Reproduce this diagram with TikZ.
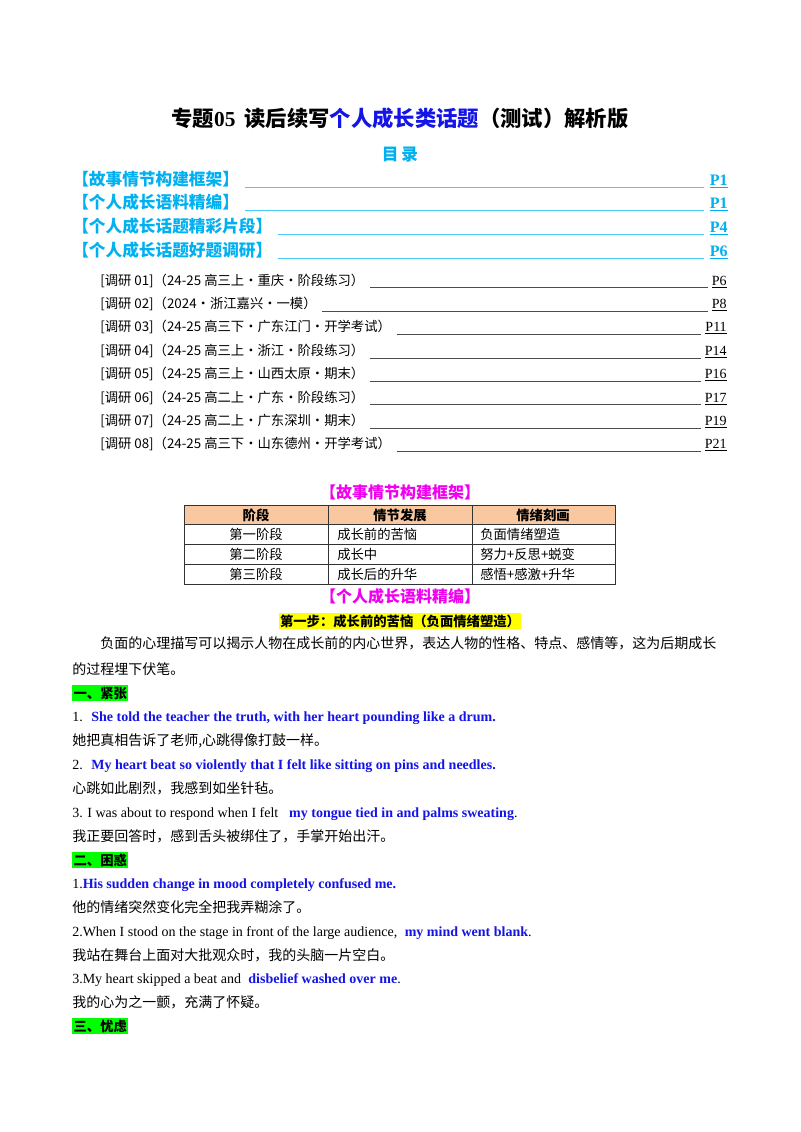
\documentclass[tikz,border=0pt]{standalone}
\usepackage{fontspec}
\setmainfont{Liberation Serif}
\newfontfamily\cjk{Noto Sans CJK SC}
\usetikzlibrary{positioning}
\definecolor{tocblue}{RGB}{0,176,240}
\definecolor{enblue}{RGB}{20,20,230}
\definecolor{hdrpink}{RGB}{240,0,240}
\definecolor{headfill}{RGB}{250,200,160}
\definecolor{hlgreen}{RGB}{0,255,0}
\definecolor{hlyellow}{RGB}{255,255,0}

\tikzset{
    toc/.style={anchor=base west, inner sep=0pt, text=tocblue, font=\cjk\bfseries\fontsize{12.5}{14}\selectfont},
    pg/.style={anchor=base east, inner sep=0pt, font=\bfseries\fontsize{12}{14}\selectfont},
    sub/.style={anchor=base west, inner sep=0pt, font=\cjk\fontsize{10}{12}\selectfont},
    body/.style={anchor=base west, inner sep=0pt, font=\cjk\fontsize{10.5}{12}\selectfont},
    eng/.style={anchor=base west, inner sep=0pt, font=\fontsize{10.5}{12}\selectfont},
    hdr/.style={inner sep=0pt, text=hdrpink, font=\cjk\bfseries\fontsize{12}{14}\selectfont},
    cell/.style={inner sep=0pt, font=\cjk\fontsize{10}{12}\selectfont},
    lead/.style={tocblue!70, line width=0.5pt},
}
\newcommand{\en}[1]{\textcolor{enblue}{\textbf{#1}}}

\begin{document}
\begin{tikzpicture}[x=0.75pt, y=-0.75pt]
\useasboundingbox[fill=white] (0,0) rectangle (800,1132);

% title
\node[inner sep=0pt, font=\bfseries\fontsize{16}{18}\selectfont] (title) at (400,118)
    {{\cjk 专题}05\, {\cjk 读后续写\textcolor{enblue}{个人成长类话题}（测试）解析版}};
\node[inner sep=0pt, text=tocblue, font=\cjk\bfseries\fontsize{12.5}{14}\selectfont] (mulu) at (400,155) {目\,录};

% contents
\node[toc] (t1) at (72,185) {【故事情节构建框架】};
\node[toc] (t2) at (72,208) {【个人成长语料精编】};
\node[toc] (t3) at (72,232) {【个人成长话题精彩片段】};
\node[toc] (t4) at (72,256) {【个人成长话题好题调研】};
\node[pg, text=tocblue] (p1) at (728,185) {\underline{P1}};
\node[pg, text=tocblue] (p2) at (728,208) {\underline{P1}};
\node[pg, text=tocblue] (p3) at (728,232) {\underline{P4}};
\node[pg, text=tocblue] (p4) at (728,256) {\underline{P6}};
\foreach \i in {1,...,4}
    \draw[lead] ([xshift=4pt,yshift=-2pt]t\i.base east) -- ([xshift=-4pt,yshift=-2pt]p\i.base west);

\foreach \i/\src/\pp [count=\k] in {
    01/24-25 高三上·重庆·阶段练习/P6,
    02/2024·浙江嘉兴·一模/P8,
    03/24-25 高三下·广东江门·开学考试/P11,
    04/24-25 高三上·浙江·阶段练习/P14,
    05/24-25 高三上·山西太原·期末/P16,
    06/24-25 高二上·广东·阶段练习/P17,
    07/24-25 高二上·广东深圳·期末/P19,
    08/24-25 高三下·山东德州·开学考试/P21}
{
    \node[sub] (s\k) at (100,{285+23.4*(\k-1)}) {[调研 \i]（\src）};
    \node[pg, font=\fontsize{10.5}{12}\selectfont] (q\k) at (727,{285+23.4*(\k-1)}) {\underline{\pp}};
    \draw[black!70, line width=0.4pt] ([xshift=4pt,yshift=-2pt]s\k.base east) -- ([xshift=-3pt,yshift=-2pt]q\k.base west);
}

% frame table
\node[hdr] (h1) at (400,492) {【故事情节构建框架】};
\fill[headfill] (184,505) rectangle (615,524);
\draw[black!80, line width=0.6pt] (184,505) rectangle (615,584);
\foreach \y in {524,544,564} \draw[black!80, line width=0.5pt] (184,\y) -- (615,\y);
\foreach \x in {328,472} \draw[black!80, line width=0.5pt] (\x,505) -- (\x,584);
\node[cell, font=\cjk\bfseries\fontsize{10}{12}\selectfont] (c11) at (256,515) {阶段};
\node[cell, font=\cjk\bfseries\fontsize{10}{12}\selectfont] (c12) at (400,515) {情节发展};
\node[cell, font=\cjk\bfseries\fontsize{10}{12}\selectfont] (c13) at (543,515) {情绪刻画};
\foreach \a/\b/\c [count=\r] in {第一阶段/成长前的苦恼/负面情绪塑造, 第二阶段/成长中/努力+反思+蜕变, 第三阶段/成长后的升华/感悟+感激+升华} {
    \node[cell] (r\r a) at (256,{534+20*(\r-1)}) {\a};
    \node[cell, anchor=west] (r\r b) at (337,{534+20*(\r-1)}) {\b};
    \node[cell, anchor=west] (r\r c) at (480,{534+20*(\r-1)}) {\c};
}
\node[hdr] (h2) at (400,596) {【个人成长语料精编】};
\node[inner sep=1pt, fill=hlyellow, font=\cjk\bfseries\fontsize{10}{12}\selectfont] (step1) at (400,621) {第一步：成长前的苦恼（负面情绪塑造）};

% text
\node[body] (para1) at (100,648) {负面的心理描写可以揭示人物在成长前的内心世界，表达人物的性格、特点、感情等，这为后期成长};
\node[body] (para2) at (72,674) {的过程埋下伏笔。};
\node[body, fill=hlgreen, inner sep=1pt, font=\cjk\bfseries\fontsize{10}{12}\selectfont] (g1) at (72,698) {一、紧张};
\node[eng] (e1) at (72,721) {1.\; \en{She told the teacher the truth, with her heart pounding like a drum.}};
\node[body] (z1) at (72,745) {她把真相告诉了老师,心跳得像打鼓一样。};
\node[eng] (e2) at (72,769) {2.\; \en{My heart beat so violently that I felt like sitting on pins and needles.}};
\node[body] (z2) at (72,793) {心跳如此剧烈，我感到如坐针毡。};
\node[eng] (e3) at (72,817) {3. I was about to respond when I felt \; \en{my tongue tied in and palms sweating}.};
\node[body] (z3) at (72,841) {我正要回答时，感到舌头被绑住了，手掌开始出汗。};
\node[body, fill=hlgreen, inner sep=1pt, font=\cjk\bfseries\fontsize{10}{12}\selectfont] (g2) at (72,865) {二、困惑};
\node[eng] (e4) at (72,888) {1.\en{His sudden change in mood completely confused me.}};
\node[body] (z4) at (72,912) {他的情绪突然变化完全把我弄糊涂了。};
\node[eng] (e5) at (72,936) {2.When I stood on the stage in front of the large audience, \;\en{my mind went blank}.};
\node[body] (z5) at (72,960) {我站在舞台上面对大批观众时，我的头脑一片空白。};
\node[eng] (e6) at (72,983) {3.My heart skipped a beat and \;\en{disbelief washed over me}.};
\node[body] (z6) at (72,1007) {我的心为之一颤，充满了怀疑。};
\node[body, fill=hlgreen, inner sep=1pt, font=\cjk\bfseries\fontsize{10}{12}\selectfont] (g3) at (72,1031) {三、忧虑};
\end{tikzpicture}
\end{document}
